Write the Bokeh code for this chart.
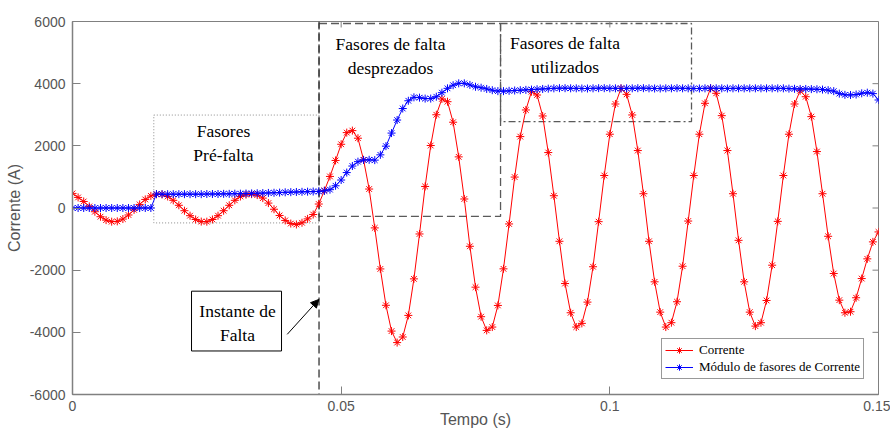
import numpy as np
from bokeh.plotting import figure
from bokeh.models import (Range1d, FixedTicker, BoxAnnotation, Span,
                          Label, Arrow, NormalHead)
from bokeh.embed import file_html
from bokeh.resources import INLINE

# ---------------- data ----------------
SAMPLE_RATE_HZ = 960  # 16 samples per 60 Hz cycle

corrente = [
    470, 340, 210, 50, -120, -280, -390, -440, -430, -355,
    -225, -60, 115, 275, 390, 440, 437, 370, 247, 87,
    -87, -247, -370, -437, -440, -370, -247, -87, 87, 247,
    370, 430, 445, 415, 318, 158, -40, -240, -400, -500,
    -530, -475, -350, -210, 128, 560, 1015, 1530, 2050, 2425,
    2490, 2245, 1550, 610, -640, -1960, -3130, -3960, -4330, -4150,
    -3455, -2280, -835, 693, 2010, 3000, 3510, 3420, 2760, 1645,
    290, -1232, -2547, -3497, -3937, -3830, -3135, -1957, -513, 995,
    2297, 3154, 3741, 3635, 2961, 1784, 395, -1071, -2430, -3370,
    -3830, -3712, -3028, -1890, -440, 1046, 2374, 3346, 3850, 3657,
    2993, 1848, 459, -1071, -2375, -3350, -3830, -3690, -3016, -1873,
    -420, 1046, 2374, 3368, 3850, 3690, 2971, 1848, 459, -1040,
    -2375, -3350, -3800, -3690, -2975, -1840, -430, 1046, 2374, 3346,
    3773, 3580, 2940, 1816, 459, -910, -2108, -2965, -3370, -3337,
    -2887, -2270, -1636, -1090, -770,
]

modulo_fasor = [
    0, 0, 0, 0, 0, 0, 0, 0, 0, 0,
    0, 0, 0, 0, 0, 450, 445, 445, 445, 445,
    445, 445, 445, 445, 450, 450, 450, 455, 455, 460,
    460, 465, 470, 475, 480, 485, 490, 495, 505, 510,
    515, 520, 525, 530, 535, 550, 590, 715, 900, 1140,
    1350, 1490, 1545, 1550, 1540, 1710, 1990, 2410, 2830, 3200,
    3450, 3560, 3550, 3520, 3520, 3580, 3710, 3850, 3950, 4010,
    4010, 3960, 3900, 3870, 3830, 3790, 3760, 3760, 3770, 3780,
    3790, 3800, 3810, 3820, 3830, 3840, 3850, 3855, 3855, 3850,
    3850, 3845, 3845, 3850, 3855, 3855, 3850, 3850, 3845, 3850,
    3850, 3855, 3855, 3850, 3845, 3845, 3850, 3850, 3855, 3850,
    3850, 3845, 3845, 3850, 3855, 3850, 3850, 3845, 3850, 3850,
    3850, 3850, 3850, 3850, 3850, 3850, 3850, 3850, 3840, 3835,
    3830, 3830, 3825, 3820, 3810, 3790, 3760, 3680, 3640, 3636,
    3650, 3690, 3710, 3680, 3475,
]

x_ticks = [0, 0.05, 0.1, 0.15]
x_tick_labels = ["0", "0.05", "0.1", "0.15"]
y_ticks = [-6000, -4000, -2000, 0, 2000, 4000, 6000]
y_tick_labels = ["-6000", "-4000", "-2000", "0", "2000", "4000", "6000"]

t = np.arange(len(corrente)) / SAMPLE_RATE_HZ

# ---------------- figure ----------------
AX = "#808080"
TXT = "#555555"
X0, X1, Y0, Y1 = 0, 0.15, -6000, 6000

p = figure(width=890, height=430, x_range=Range1d(X0, X1), y_range=Range1d(Y0, Y1),
           output_backend="svg", toolbar_location=None, title=None,
           min_border_left=72, min_border_right=12, min_border_top=21, min_border_bottom=35)
p.grid.visible = False
p.outline_line_color = AX
p.outline_line_width = 1
p.background_fill_color = "white"
p.border_fill_color = "white"

def style_axis(ax, ticks, labels):
    ax.ticker = FixedTicker(ticks=ticks)
    ax.major_label_overrides = {tk: lb for tk, lb in zip(ticks, labels)}
    ax.minor_tick_line_color = None
    ax.major_tick_in = 8
    ax.major_tick_out = 0
    ax.major_tick_line_color = AX
    ax.axis_line_color = AX
    ax.axis_line_width = 1.5
    ax.major_label_text_font = "Liberation Sans"
    ax.major_label_text_color = TXT
    ax.major_label_text_font_size = "14px"
    ax.major_label_standoff = 7
    ax.axis_label_text_font = "Liberation Sans"
    ax.axis_label_text_font_style = "normal"
    ax.axis_label_text_font_size = "16px"
    ax.axis_label_text_color = TXT

style_axis(p.xaxis[0], x_ticks, x_tick_labels)
style_axis(p.yaxis[0], y_ticks, y_tick_labels)
p.yaxis[0].axis_label = "Corrente (A)"
p.yaxis[0].axis_label_standoff = 4
p.xaxis[0].axis_label = "Tempo (s)"
p.xaxis[0].major_label_standoff = 6
p.xaxis[0].axis_label_standoff = -3

# inward ticks on the right and top edges of the box
TICK_PX = 6
fx = (X1 - X0) / 806
fy = (Y1 - Y0) / 374
p.segment(x0=[X1 - TICK_PX * fx] * len(y_ticks), x1=[X1] * len(y_ticks),
          y0=y_ticks, y1=y_ticks, line_color=AX, line_width=1)
p.segment(x0=x_ticks, x1=x_ticks, y0=[Y1 - TICK_PX * fy] * len(x_ticks),
          y1=[Y1] * len(x_ticks), line_color=AX, line_width=1)

# ---------------- annotation boxes ----------------
T_FALTA = 0.04588
T_PRE = 0.01513
T_DESP = 0.07966
T_UTIL = 0.1152

p.add_layout(BoxAnnotation(left=T_PRE, right=T_FALTA, bottom=-480, top=2990,
                           fill_color=None, line_color="#8c8c8c", line_alpha=1, line_width=1,
                           line_dash="1 2", level="underlay"))
p.add_layout(BoxAnnotation(left=T_FALTA, right=T_DESP, bottom=-270, top=5935,
                           fill_color=None, line_color="#5a5a5a", line_alpha=1, line_width=1.3,
                           line_dash="8 4", level="underlay"))
p.add_layout(BoxAnnotation(left=T_DESP, right=T_UTIL, bottom=2780, top=5935,
                           fill_color=None, line_color="#5a5a5a", line_alpha=1, line_width=1.3,
                           line_dash="7 3 2 3", level="underlay"))
p.add_layout(Span(location=T_FALTA, dimension="height", line_color="#333333",
                  line_width=1.3, line_dash="8 4", level="underlay"))

# ---------------- data series ----------------
p.line(t, corrente, line_color="red", line_width=1, legend_label="Corrente")
p.scatter(t, corrente, marker="asterisk", size=8, line_color="red", line_width=1,
          legend_label="Corrente")
p.line(t, modulo_fasor, line_color="blue", line_width=1,
       legend_label="Módulo de fasores de Corrente")
p.scatter(t, modulo_fasor, marker="asterisk", size=8, line_color="blue", line_width=1,
          legend_label="Módulo de fasores de Corrente")

# ---------------- texts ----------------
SERIF = "Liberation Serif"
def txt(x, y, s, size="17.5px"):
    p.add_layout(Label(x=x, y=y, text=s, text_font=SERIF, text_font_size=size,
                       text_color="black", text_align="center", text_baseline="middle"))

txt(0.0281, 2095, "Fasores\nPré-falta")
txt(0.05918, 4886, "Fasores de falta\ndesprezados")
txt(0.09166, 4928, "Fasores de falta\nutilizados")

p.add_layout(BoxAnnotation(left=0.02215, right=0.0389, bottom=-4600, top=-2676,
                           fill_color="white", fill_alpha=1, line_color="black",
                           line_alpha=1, line_width=1))
txt(0.03071, -3689, "Instante de\nFalta")
p.add_layout(Arrow(end=NormalHead(size=8, fill_color="black", line_color="black"),
                   x_start=0.03996, y_start=-4065, x_end=0.04584, y_end=-2942,
                   line_color="black", line_width=1))

# ---------------- legend ----------------
lg = p.legend[0]
lg.location = (589, 15)
lg.label_text_font = SERIF
lg.label_text_font_size = "13px"
lg.label_text_color = "black"
lg.border_line_color = "#333333"
lg.border_line_width = 1
lg.background_fill_color = "white"
lg.background_fill_alpha = 1
lg.padding = 3
lg.spacing = 1
lg.margin = 0
lg.glyph_width = 28
lg.glyph_height = 16
lg.label_height = 16
lg.label_standoff = 6

open("out.html", "w").write(file_html(p, INLINE))
